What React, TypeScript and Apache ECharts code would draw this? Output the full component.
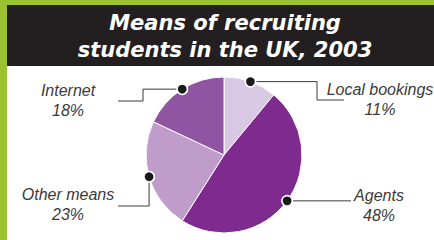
import React, { useEffect, useRef } from "react";
import * as echarts from "echarts";

const titleLines = ["Means of recruiting", "students in the UK, 2003"];
const categories = ["Local bookings", "Agents", "Other means", "Internet"];
const shares = [11, 48, 23, 18];
const sliceColors = ["#d8c8e4", "#7e2a8f", "#bf9cca", "#8f55a2"];

const W = 434;
const H = 240;
const CX = 224;
const CY = 155;
const R = 78;

// label layout: text centre and elbow points of the leader line (after the dot)
const labelLayout: Record<string, { tx: number; ty: number; path: (d: number[]) => number[][] }> = {
  "Local bookings": { tx: 380, ty: 99.5, path: (d) => [[317, d[1]], [317, 100], [344, 100]] },
  Agents: { tx: 379, ty: 205, path: (d) => [[351, d[1]]] },
  "Other means": { tx: 68, ty: 204.5, path: (d) => [[d[0], 206], [118, 206]] },
  Internet: { tx: 68, ty: 100, path: (d) => [[143, d[1]], [143, 101], [118, 101]] },
};

export default function App() {
  const ref = useRef<HTMLDivElement>(null);
  useEffect(() => {
    if (!ref.current) return;
    const chart = echarts.init(ref.current, null, { renderer: "svg" });
    const total = shares.reduce((a, b) => a + b, 0);
    let acc = 0;
    const graphics: any[] = [
      { type: "rect", shape: { x: 0, y: 0, width: W, height: H }, style: { fill: "#ffffff" }, z: -10 },
      { type: "rect", shape: { x: 0, y: 0, width: W, height: 5 }, style: { fill: "#9cc232" }, z: -9 },
      { type: "rect", shape: { x: 0, y: 0, width: 7, height: H }, style: { fill: "#9cc232" }, z: -9 },
      { type: "rect", shape: { x: 7, y: 5, width: W - 7, height: 61 }, style: { fill: "#231f20" }, z: -9 },
      {
        type: "text",
        x: 225,
        y: 36,
        style: {
          text: titleLines.join("\n"),
          align: "center",
          verticalAlign: "middle",
          fill: "#ffffff",
          font: "italic bold 21px 'DejaVu Sans'",
          lineHeight: 27,
        },
      },
    ];
    categories.forEach((name, i) => {
      const mid = ((acc + shares[i] / 2) / total) * 2 * Math.PI;
      acc += shares[i];
      const dot = [CX + R * Math.sin(mid), CY - R * Math.cos(mid)];
      const lay = labelLayout[name];
      graphics.push({
        type: "polyline",
        shape: { points: [dot, ...lay.path(dot)] },
        style: { stroke: "#3a3a3a", lineWidth: 1, fill: null },
        z: 10,
      });
      graphics.push({
        type: "circle",
        shape: { cx: dot[0], cy: dot[1], r: 5.2 },
        style: { fill: "#1a1a1a", stroke: "#ffffff", lineWidth: 1.6 },
        z: 11,
      });
      graphics.push({
        type: "text",
        x: lay.tx,
        y: lay.ty,
        style: {
          text: name + "\n" + shares[i] + "%",
          align: "center",
          verticalAlign: "middle",
          fill: "#3a3a3a",
          font: "italic 16px 'Liberation Sans'",
          lineHeight: 20,
        },
        z: 12,
      });
    });
    chart.setOption({
      animation: false,
      graphic: graphics,
      series: [
        {
          type: "pie",
          center: [CX, CY],
          radius: R,
          startAngle: 90,
          clockwise: true,
          silent: true,
          label: { show: false },
          labelLine: { show: false },
          itemStyle: { borderColor: "#ffffff", borderWidth: 1 },
          data: categories.map((c, i) => ({ name: c, value: shares[i], itemStyle: { color: sliceColors[i] } })),
        },
      ],
    });
    return () => chart.dispose();
  }, []);
  return (
    <div style={{ position: "absolute", left: 0, top: 0, width: W, height: H }}>
      <div ref={ref} style={{ width: W, height: H }} />
    </div>
  );
}
